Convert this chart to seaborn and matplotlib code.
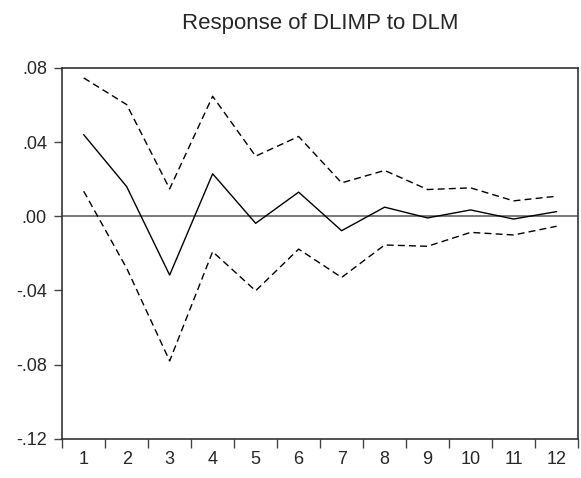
import pandas as pd
import matplotlib
matplotlib.use("Agg")
import matplotlib.pyplot as plt
import seaborn as sns

# impulse response values
periods = [1, 2, 3, 4, 5, 6, 7, 8, 9, 10, 11, 12]
response = [0.0440, 0.0160, -0.0317, 0.0229, -0.0038, 0.0130, -0.0078, 0.0049, -0.0009, 0.0034, -0.0015, 0.0025]
upper = [0.0746, 0.0602, 0.0148, 0.0647, 0.0324, 0.0430, 0.0180, 0.0247, 0.0144, 0.0153, 0.0083, 0.0108]
lower = [0.0135, -0.0280, -0.0780, -0.0191, -0.0402, -0.0177, -0.0330, -0.0155, -0.0162, -0.0087, -0.0101, -0.0054]
ytick_vals = [-0.12, -0.08, -0.04, 0.00, 0.04, 0.08]
ytick_labels = ['-.12', '-.08', '-.04', '.00', '.04', '.08']

df = pd.DataFrame({'period': periods, 'response': response, 'upper': upper, 'lower': lower})

sns.set_style("white")
plt.rcParams['font.family'] = ['Liberation Sans', 'DejaVu Sans']

fig = plt.figure(figsize=(5.81, 4.78), dpi=100)
ax = fig.add_axes([0.107, 0.082, 0.888, 0.776])

ax.axhline(0, color='#555555', lw=1.1, zorder=1)
sns.lineplot(data=df, x='period', y='response', color='black', lw=1.0, ax=ax)
sns.lineplot(data=df, x='period', y='upper', color='black', lw=1.0, ax=ax)
sns.lineplot(data=df, x='period', y='lower', color='black', lw=1.0, ax=ax)
for ln in ax.lines[2:]:
    ln.set_dashes([5, 3])

ax.set_xlim(0.5, 12.5)
ax.set_ylim(-0.12, 0.08)
ax.set_xlabel('')
ax.set_ylabel('')

# category ticks between periods, labels centred on each period
ax.set_xticks([p + 0.5 for p in [0] + periods], minor=False)
ax.set_xticklabels([])
ax.set_xticks(periods, minor=True)
ax.set_xticklabels([str(p) for p in periods], minor=True, fontsize=13)
ax.tick_params(axis='x', which='major', direction='out', length=6.5, width=1, color='#444444', bottom=True)
ax.tick_params(axis='x', which='minor', length=0, pad=9, bottom=True)

ax.set_yticks(ytick_vals)
ax.set_yticklabels(ytick_labels, fontsize=13)
ax.tick_params(axis='y', direction='out', length=6, width=1, color='#444444', left=True, pad=5)

for side in ['left', 'bottom', 'top', 'right']:
    ax.spines[side].set_visible(True)
    ax.spines[side].set_color('#333333')
    ax.spines[side].set_linewidth(1.2)

ax.set_title('Response of DLIMP to DLM', fontsize=16, pad=28)

fig.savefig('out.png', dpi=100)
